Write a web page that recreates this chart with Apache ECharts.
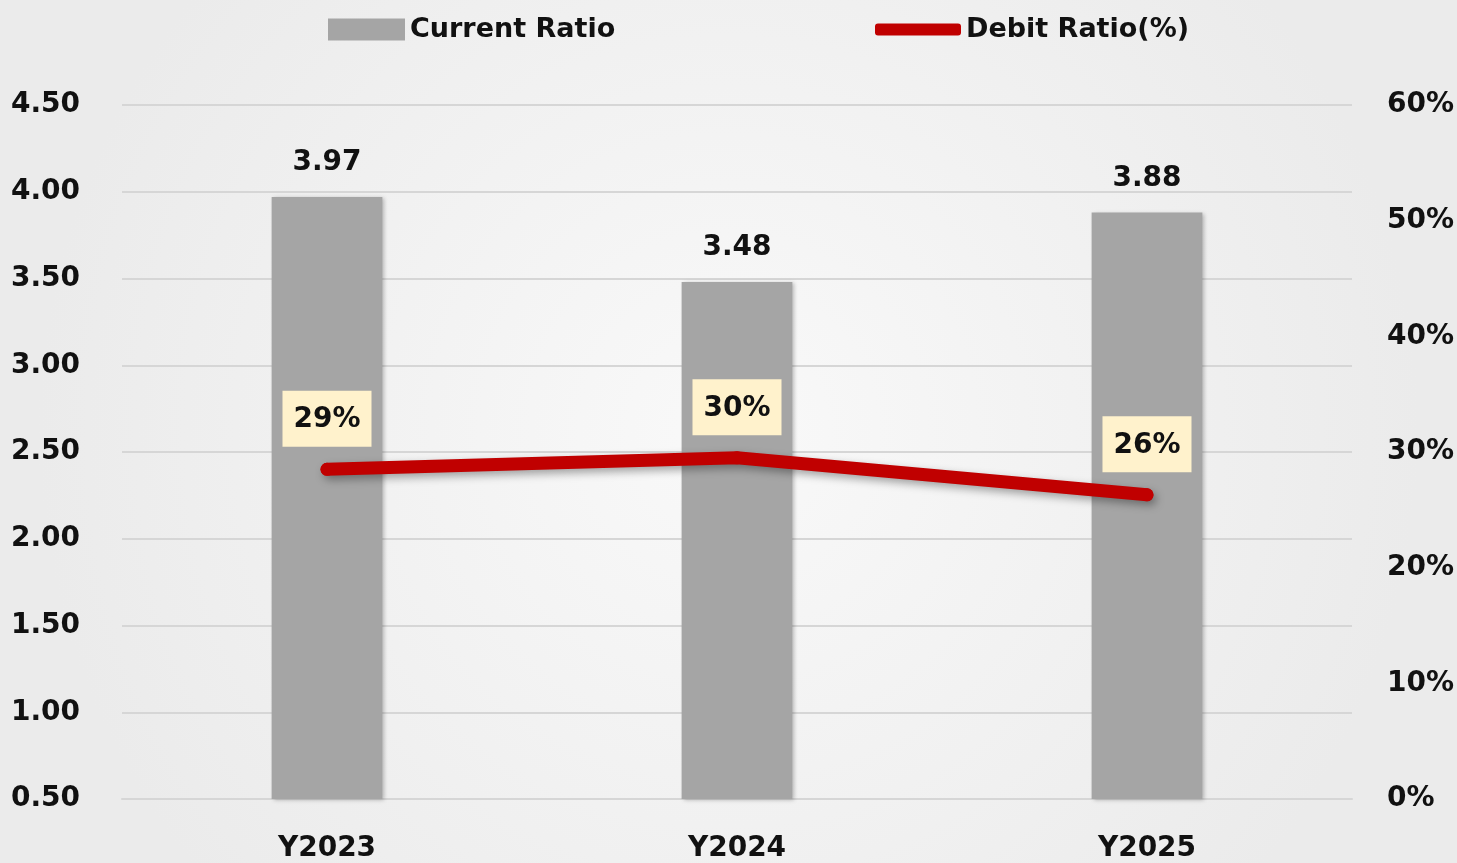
<!DOCTYPE html>
<html>
<head>
<meta charset="utf-8">
<script src="https://cdn.jsdelivr.net/npm/echarts@6/dist/echarts.min.js"></script>
<style>
  html, body { margin: 0; padding: 0; }
  #main { width: 1457px; height: 863px; }
</style>
</head>
<body>
<div id="main"></div>
<script>
// categories and values
var years = ['Y2023', 'Y2024', 'Y2025'];
var currentRatio = [3.97, 3.48, 3.88];
var debitRatio = [28.5, 29.5, 26.3];   // percent

var leftTicks = { min: 0.5, max: 4.5, interval: 0.5 };
var rightTicks = { min: 0, max: 60, interval: 10 };

var font = 'DejaVu Sans';
var myChart = echarts.init(document.getElementById('main'));

var option = {
  backgroundColor: {
    type: 'radial', x: 0.5, y: 0.5, r: 0.8,
    colorStops: [
      { offset: 0, color: '#f9f9f9' },
      { offset: 1, color: '#ebebeb' }
    ]
  },
  textStyle: { fontFamily: font },
  legend: [
    {
      data: ['Current Ratio'],
      left: 323, top: 11,
      itemWidth: 77, itemHeight: 22, itemGap: 9,
      icon: 'rect',
      textStyle: { fontFamily: font, fontSize: 27, fontWeight: 'bold', color: '#111' }
    },
    {
      data: ['Debit Ratio(%)'],
      left: 870, top: 11,
      itemWidth: 86, itemHeight: 12, itemGap: 5,
      icon: 'roundRect',
      textStyle: { fontFamily: font, fontSize: 27, fontWeight: 'bold', color: '#111' }
    }
  ],
  grid: { left: 122, right: 105, top: 105, bottom: 63 },
  xAxis: {
    type: 'category',
    data: years,
    axisTick: { show: false },
    axisLine: { lineStyle: { color: '#d6d6d6', width: 2 } },
    axisLabel: { margin: 36, fontFamily: font, fontSize: 28, fontWeight: 'bold', color: '#111' }
  },
  yAxis: [
    {
      type: 'value',
      min: leftTicks.min, max: leftTicks.max, interval: leftTicks.interval,
      axisLine: { show: false },
      axisTick: { show: false },
      splitLine: { lineStyle: { color: '#d6d6d6', width: 2 } },
      axisLabel: {
        margin: 42, fontFamily: font, fontSize: 28, fontWeight: 'bold', color: '#111',
        formatter: function (v) { return v.toFixed(2); }
      }
    },
    {
      type: 'value',
      min: rightTicks.min, max: rightTicks.max, interval: rightTicks.interval,
      axisLine: { show: false },
      axisTick: { show: false },
      splitLine: { show: false },
      axisLabel: {
        margin: 35, fontFamily: font, fontSize: 28, fontWeight: 'bold', color: '#111',
        formatter: '{value}%'
      }
    }
  ],
  series: [
    {
      name: 'Current Ratio',
      type: 'bar',
      data: currentRatio,
      barWidth: '27%',
      itemStyle: {
        color: '#a5a5a5',
        shadowColor: 'rgba(0,0,0,0.25)', shadowBlur: 4, shadowOffsetX: 2, shadowOffsetY: 1
      },
      label: {
        show: true, position: 'top', distance: 20,
        fontFamily: font, fontSize: 28, fontWeight: 'bold', color: '#111',
        formatter: function (p) { return p.value.toFixed(2); }
      }
    },
    {
      name: 'Debit Ratio(%)',
      type: 'line',
      yAxisIndex: 1,
      data: debitRatio,
      symbol: 'circle', symbolSize: 13,
      itemStyle: { color: '#c00000' },
      lineStyle: {
        color: '#c00000', width: 13, cap: 'round',
        shadowColor: 'rgba(0,0,0,0.35)', shadowBlur: 8, shadowOffsetX: 3, shadowOffsetY: 4
      },
      label: {
        show: true, position: 'top', distance: 16,
        backgroundColor: '#fff2cc',
        padding: [15, 11, 13, 11],
        fontFamily: font, fontSize: 28, fontWeight: 'bold', color: '#111',
        formatter: function (p) { return Math.round(p.value) + '%'; }
      }
    }
  ]
};

myChart.setOption(option);
</script>
</body>
</html>
